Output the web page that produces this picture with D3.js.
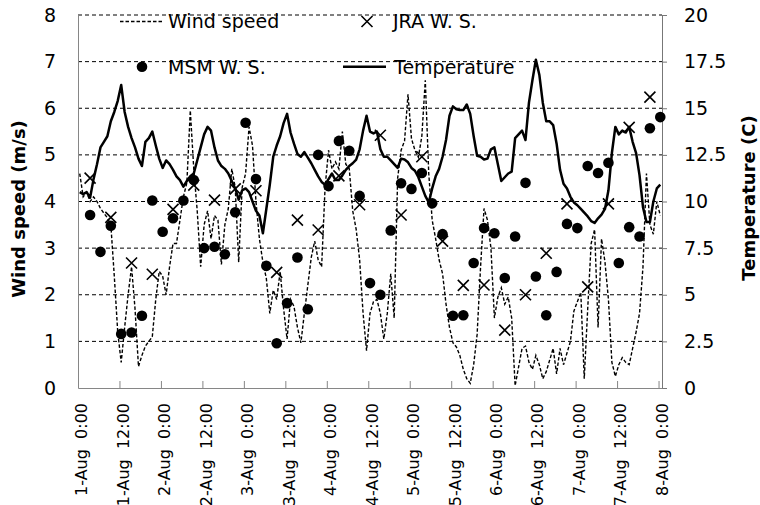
<!DOCTYPE html>
<html><head><meta charset="utf-8">
<script src="https://cdn.jsdelivr.net/npm/d3@7"></script>
<style>
body{margin:0;background:#fff}
svg{display:block}
text{font-family:"DejaVu Sans",sans-serif;fill:#000}
.xl text{white-space:pre}
</style>
</head><body>
<svg id="c" width="760" height="505"></svg>
<script>
// ---------- DATA ----------
const hours = d3.range(169); // hourly categories from 1-Aug 0:00 to 8-Aug 0:00
const tickHours = [0,12,24,36,48,60,72,84,96,108,120,132,144,156,168];
const tickLabels = ["1-Aug  0:00","1-Aug  12:00","2-Aug  0:00","2-Aug  12:00","3-Aug  0:00","3-Aug  12:00",
  "4-Aug  0:00","4-Aug  12:00","5-Aug  0:00","5-Aug  12:00","6-Aug  0:00","6-Aug  12:00","7-Aug  0:00","7-Aug  12:00","8-Aug  0:00"];
const windTicks = [0,1,2,3,4,5,6,7,8];
const tempTicks = [0,2.5,5,7.5,10,12.5,15,17.5,20];

const windSpeed = [
 4.6,4.1,4.2,4.0,4.1,4.0,3.85,3.75,3.65,3.5,
 2.4,1.2,0.55,1.3,2.0,2.6,1.7,0.46,0.7,0.9,
 1.0,1.1,1.9,2.5,2.4,2.0,2.6,3.1,3.1,3.6,
 4.1,4.4,5.95,4.7,3.8,2.6,3.5,3.8,3.2,3.7,
 3.6,2.65,3.5,3.85,4.7,4.3,2.7,4.3,4.6,5.6,
 5.2,4.0,3.2,2.7,2.35,1.6,2.1,1.9,2.5,1.7,
 1.05,1.9,1.75,1.3,0.97,1.6,2.2,2.8,3.15,2.75,
 2.6,4.3,5.1,4.7,4.85,4.7,5.5,4.8,4.7,3.8,
 3.4,2.75,1.6,0.8,1.6,1.85,1.9,1.6,1.05,1.6,
 2.45,1.5,4.5,5.1,5.3,6.3,5.35,5.1,4.95,5.4,
 6.6,4.6,3.6,3.2,2.75,2.45,1.8,1.3,0.97,0.88,
 0.7,0.4,0.2,0.1,0.5,1.15,2.6,3.85,3.6,3.0,
 1.5,1.95,2.15,1.8,1.95,1.5,0.05,0.45,0.85,0.9,
 0.55,0.4,0.7,0.5,0.2,0.35,0.6,0.85,0.3,0.85,
 0.5,0.75,1.0,1.65,1.85,2.05,0.2,1.7,3.1,3.4,
 1.3,3.2,2.7,1.9,0.55,0.25,0.5,0.65,0.55,0.5,
 0.85,1.2,1.6,2.6,4.6,3.5,3.3,4.0,3.7
];

const temperature = [
 10.5,10.4,10.5,10.2,11.2,12.0,12.9,13.2,13.5,14.3,
 14.8,15.4,16.25,14.8,14.0,13.4,12.9,12.3,11.9,13.2,
 13.4,13.75,13.0,12.3,11.8,12.2,12.0,11.7,11.35,11.15,
 10.8,11.1,11.35,11.5,12.2,12.9,13.6,14.0,13.8,12.9,
 12.2,11.9,11.75,11.5,11.1,10.7,10.1,10.6,10.7,10.5,
 10.0,9.5,9.25,8.3,9.6,10.9,12.4,13.0,13.5,14.2,
 14.7,13.7,13.1,12.55,12.4,12.65,12.35,12.05,11.7,11.35,
 11.05,10.9,11.2,11.5,11.15,11.15,11.4,11.7,11.9,12.05,
 12.25,12.8,13.8,14.6,13.75,13.65,13.75,12.8,12.4,12.4,
 12.2,12.0,11.8,12.3,12.25,12.1,11.8,11.65,11.3,10.8,
 10.3,9.95,10.7,11.35,11.75,12.4,13.3,14.6,15.1,14.95,
 14.9,14.9,15.2,14.7,13.5,12.45,12.4,12.25,12.3,12.8,
 12.9,12.0,11.1,11.3,11.5,11.6,13.4,13.6,13.8,13.3,
 15.3,16.5,17.6,16.8,15.3,14.3,14.3,14.1,13.1,11.7,
 10.95,10.7,10.25,9.95,9.8,9.6,9.4,9.2,8.95,8.85,
 9.1,9.3,9.6,10.6,12.6,14.0,13.6,13.8,13.7,14.0,
 13.2,12.6,11.4,9.7,8.9,8.9,10.0,10.7,10.9
];

const jraHours = [3,9,15,21,27,33,39,45,51,57,63,69,75,81,87,93,99,105,111,117,123,129,135,141,147,153,159,165];
const jraWS = [4.5,3.66,2.68,2.44,3.83,4.35,4.03,4.27,4.23,2.48,3.6,3.39,4.55,3.93,5.42,3.71,4.96,3.15,2.2,2.21,1.24,2.0,2.89,3.95,2.17,3.95,5.59,6.24];

const msmHours = [3,6,9,12,15,18,21,24,27,30,33,36,39,42,45,48,51,54,57,60,63,66,69,72,75,78,81,84,
  87,90,93,96,99,102,105,108,111,114,117,120,123,126,129,132,135,138,141,144,147,150,153,156,159,162,165,168];
const msmWS = [3.71,2.92,3.48,1.16,1.19,1.55,4.02,3.35,3.64,4.02,4.46,3.0,3.03,2.87,3.77,5.69,4.48,2.62,0.96,1.82,
  2.8,1.69,5.0,4.33,5.3,5.09,4.12,2.25,2.0,3.38,4.39,4.27,4.61,3.96,3.3,1.55,1.56,2.68,3.43,3.32,
  2.36,3.25,4.4,2.39,1.56,2.49,3.52,3.43,4.76,4.61,4.83,2.68,3.45,3.25,5.57,5.81];

const legendLabels = ["Wind speed","JRA W. S.","MSM W. S.","Temperature"];

// ---------- CHART ----------
const svg = d3.select("#c");
const L = 78, R = 662, T = 15, B = 388;
const FONT = "DejaVu Sans";
const x = d3.scaleLinear().domain([0, 169]).range([L, R]);   // 169 hourly slots
const cx = h => x(h + 0.5);                                   // centre of the slot
const yL = d3.scaleLinear().domain([0, 8]).range([B, T]);
const yR = d3.scaleLinear().domain([0, 20]).range([B, T]);

// gridlines
svg.append("g").selectAll("line").data(windTicks.filter(d => d > 0)).join("line")
  .attr("x1", L).attr("x2", R).attr("y1", d => yL(d)).attr("y2", d => yL(d))
  .attr("stroke", "#000").attr("stroke-width", 1).attr("stroke-dasharray", "4,3");

// left axis
const gl = svg.append("g").attr("transform", `translate(${L},0)`)
  .call(d3.axisLeft(yL).tickValues(windTicks).tickSize(0).tickSizeOuter(0).tickPadding(22).tickFormat(d3.format("d")))
  .attr("font-family", FONT).attr("font-size", 19);
gl.select(".domain").attr("stroke", "#868686");
gl.selectAll("text").attr("fill", "#000");

// right axis
const gr = svg.append("g").attr("transform", `translate(${R},0)`)
  .call(d3.axisRight(yR).tickValues(tempTicks).tickSize(5).tickSizeOuter(0).tickPadding(17).tickFormat(d => String(d)))
  .attr("font-family", FONT).attr("font-size", 19);
gr.select(".domain").attr("stroke", "#777");
gr.selectAll(".tick line").attr("stroke", "#777");
gr.selectAll("text").attr("fill", "#000");

// bottom axis (ticks pointing up)
const gb = svg.append("g").attr("class", "xl").attr("transform", `translate(0,${B})`)
  .call(d3.axisBottom(x).tickValues(tickHours).tickSize(-7).tickSizeOuter(0).tickFormat((d, i) => tickLabels[i]))
  .attr("font-family", FONT).attr("font-size", 16);
gb.select(".domain").attr("stroke", "#868686");
gb.selectAll(".tick line").attr("stroke", "#868686");
gb.selectAll(".tick text")
  .attr("fill", "#000")
  .attr("text-anchor", "end")
  .attr("transform", "translate(0,15) rotate(-90)")
  .attr("x", 0).attr("y", 0).attr("dy", "0.55em")
  .attr("dx", 0);

// wind speed (dashed)
svg.append("path").datum(windSpeed)
  .attr("fill", "none").attr("stroke", "#000").attr("stroke-width", 1.4)
  .attr("stroke-dasharray", "3.5,2")
  .attr("d", d3.line().x((d, i) => cx(hours[i])).y(d => yL(d)));

// temperature (solid)
svg.append("path").datum(temperature)
  .attr("fill", "none").attr("stroke", "#000").attr("stroke-width", 2.5)
  .attr("stroke-linejoin", "round")
  .attr("d", d3.line().x((d, i) => cx(hours[i])).y(d => yR(d)));

// JRA crosses
const xs = 5.5;
const crossPath = (px, py) => `M${px - xs},${py - xs}L${px + xs},${py + xs}M${px - xs},${py + xs}L${px + xs},${py - xs}`;
svg.append("g").selectAll("path").data(jraWS).join("path")
  .attr("d", (d, i) => crossPath(cx(jraHours[i]), yL(d)))
  .attr("stroke", "#000").attr("stroke-width", 1.6).attr("fill", "none");

// MSM dots
svg.append("g").selectAll("circle").data(msmWS).join("circle")
  .attr("cx", (d, i) => cx(msmHours[i])).attr("cy", d => yL(d)).attr("r", 5.3)
  .attr("fill", "#000");

// legend
const lg = svg.append("g").attr("font-family", FONT).attr("font-size", 19);
lg.append("line").attr("x1", 120).attr("x2", 163).attr("y1", 21.5).attr("y2", 21.5)
  .attr("stroke", "#000").attr("stroke-width", 1.4).attr("stroke-dasharray", "3.5,2");
lg.append("text").attr("x", 168).attr("y", 28).text(legendLabels[0]);
lg.append("path").attr("d", crossPath(367, 21.5)).attr("stroke", "#000").attr("stroke-width", 1.6);
lg.append("text").attr("x", 393).attr("y", 28).text(legendLabels[1]);
lg.append("circle").attr("cx", 142).attr("cy", 66.7).attr("r", 5.3).attr("fill", "#000");
lg.append("text").attr("x", 168).attr("y", 73.5).text(legendLabels[2]);
lg.append("line").attr("x1", 343).attr("x2", 386).attr("y1", 66.7).attr("y2", 66.7)
  .attr("stroke", "#000").attr("stroke-width", 2.5);
lg.append("text").attr("x", 394).attr("y", 73.5).text(legendLabels[3]);

// axis titles
svg.append("text").attr("transform", "translate(25,209) rotate(-90)")
  .attr("text-anchor", "middle").attr("font-family", FONT).attr("font-weight", "bold").attr("font-size", 18)
  .text("Wind speed (m/s)");
svg.append("text").attr("transform", "translate(755,198) rotate(-90)")
  .attr("text-anchor", "middle").attr("font-family", FONT).attr("font-weight", "bold").attr("font-size", 18)
  .text("Temperature (C)");
</script>
</body></html>
